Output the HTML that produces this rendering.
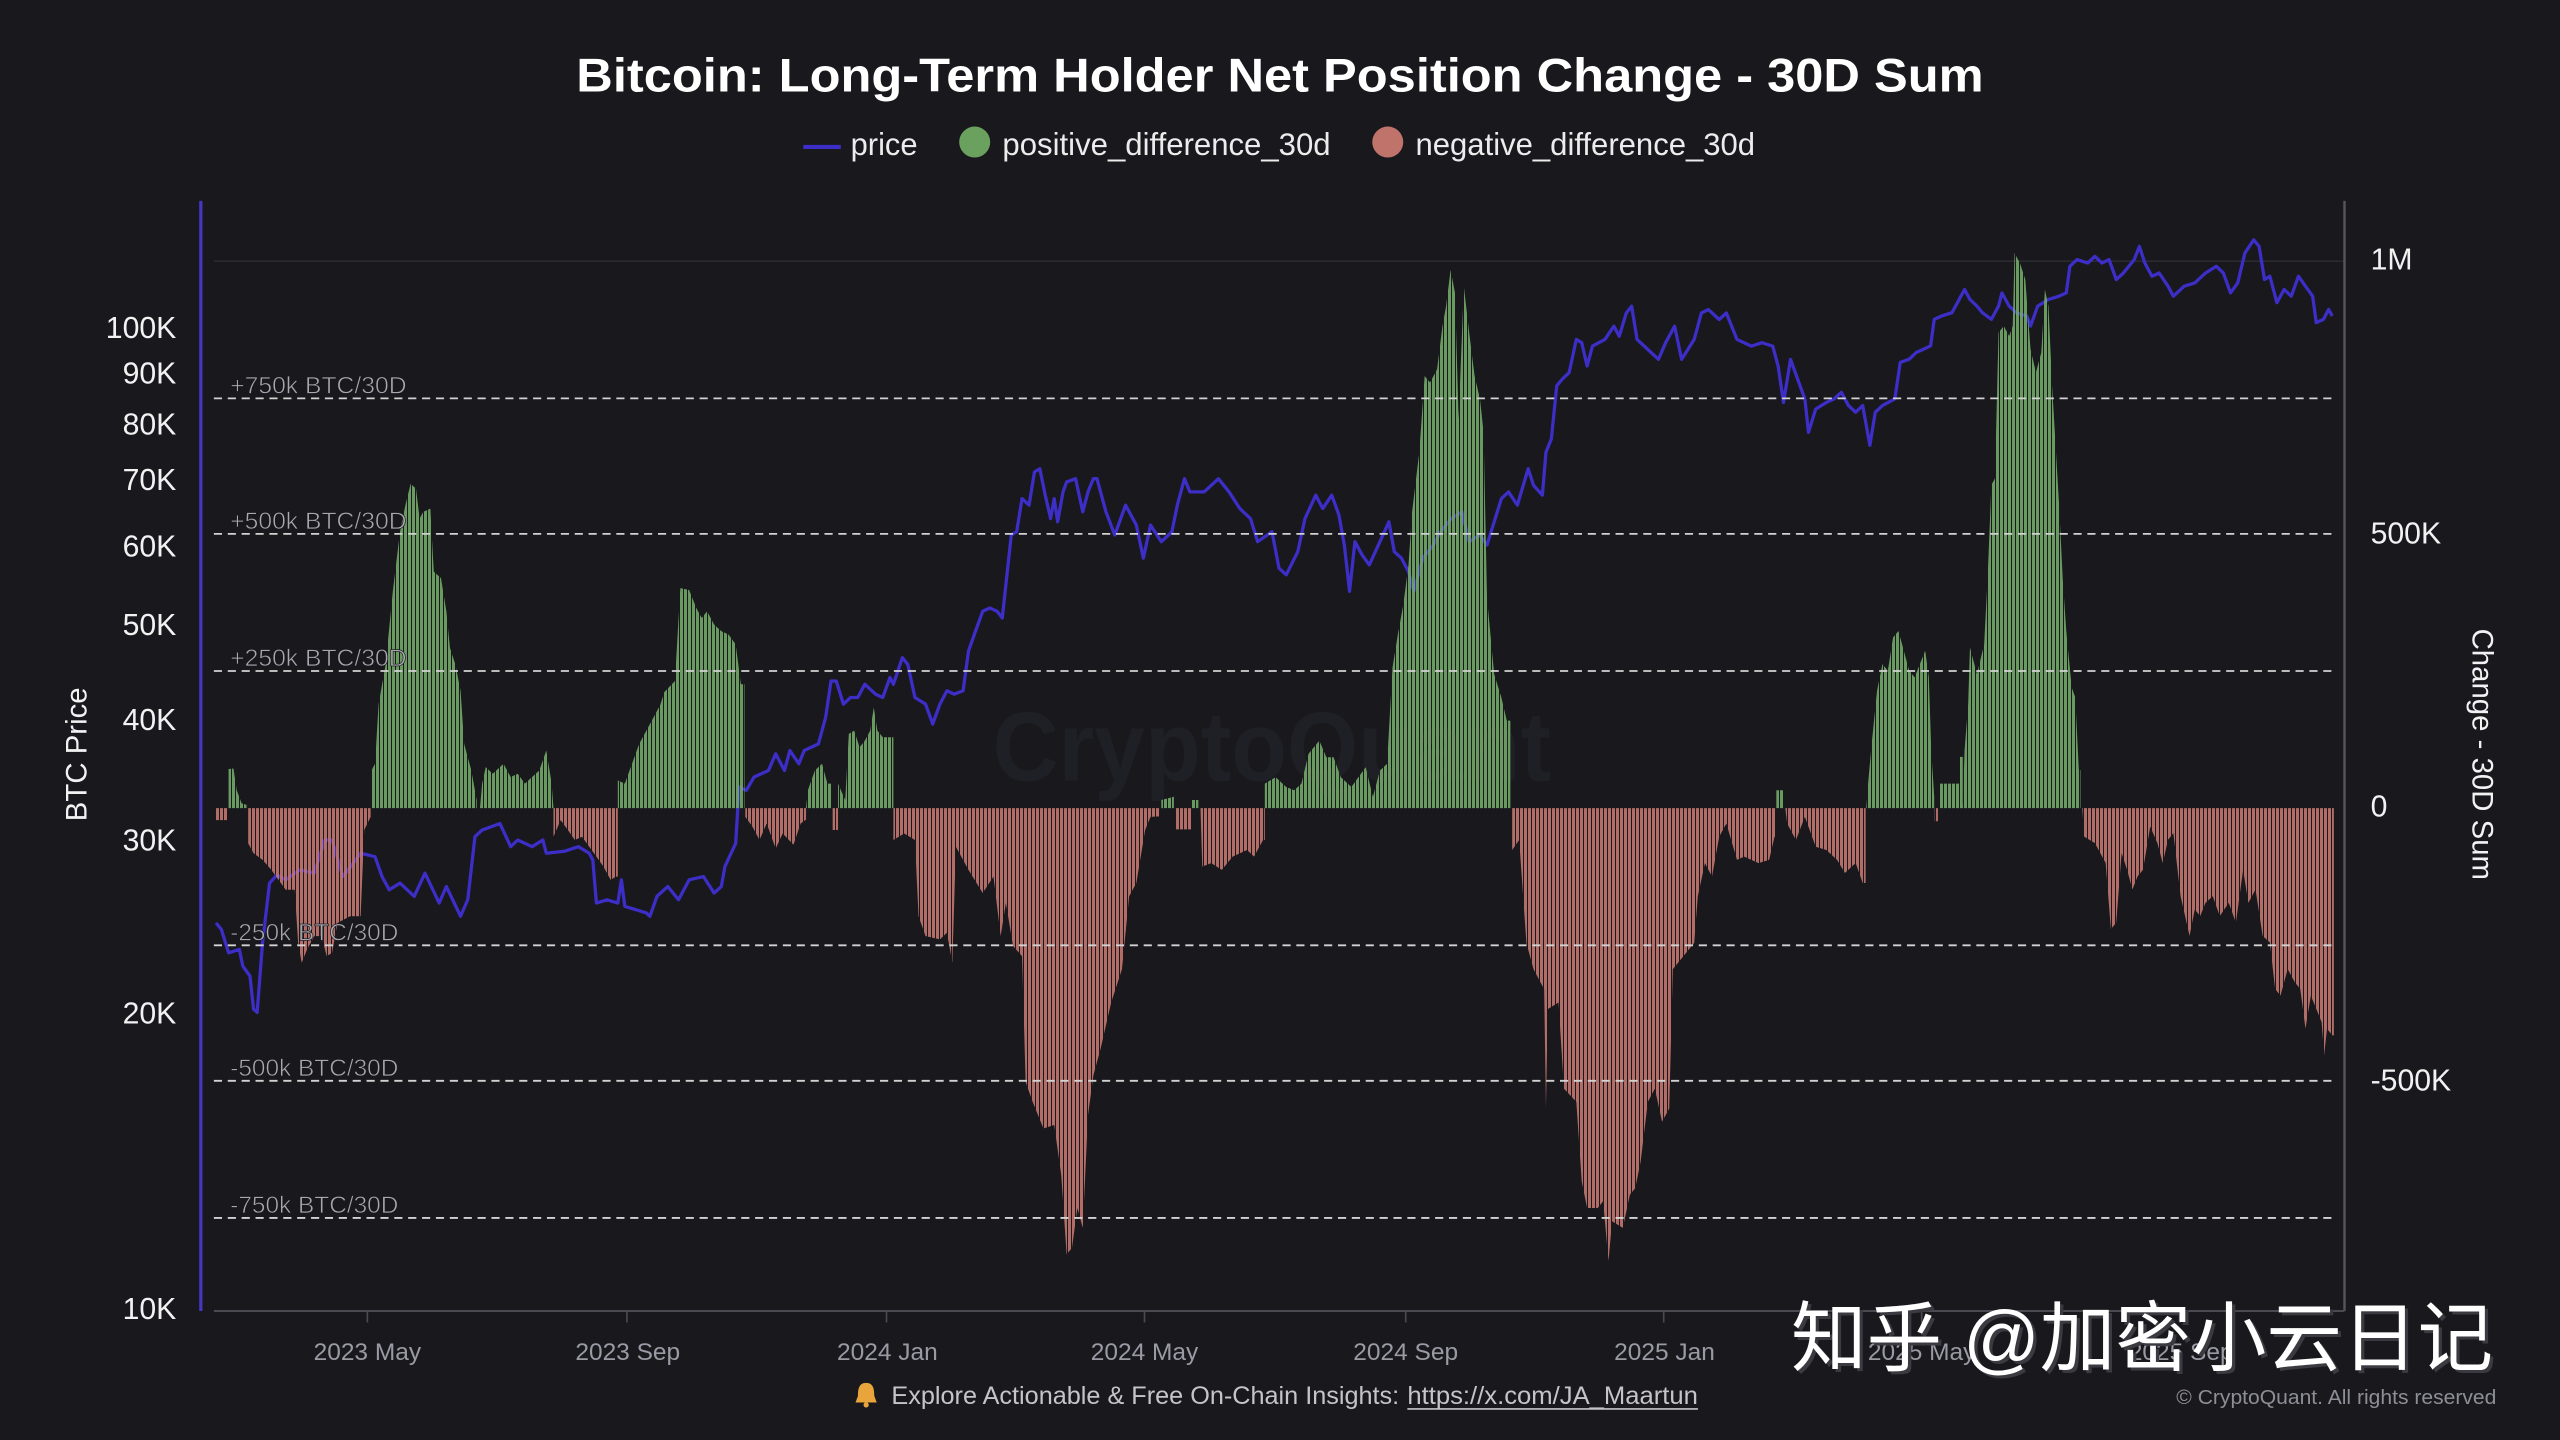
<!DOCTYPE html>
<html><head><meta charset="utf-8"><style>
html,body{margin:0;padding:0;background:#18181d;}
svg{display:block;}
text{font-family:"Liberation Sans","Noto Sans CJK SC",sans-serif;}
</style></head><body>
<svg width="2560" height="1440" viewBox="0 0 1568 882" xmlns="http://www.w3.org/2000/svg">
<defs>
<pattern id="gs" width="2.45" height="10" patternUnits="userSpaceOnUse"><rect width="1.84" height="10" fill="#72a866"/></pattern>
<pattern id="rs" width="2.45" height="10" patternUnits="userSpaceOnUse"><rect width="1.84" height="10" fill="#c2766e"/></pattern>
</defs>
<rect width="1568" height="882" fill="#18181d"/>

<!-- title -->
<text x="784" y="56" text-anchor="middle" font-size="29" font-weight="bold" fill="#ffffff" textLength="862" lengthAdjust="spacingAndGlyphs">Bitcoin: Long-Term Holder Net Position Change - 30D Sum</text>

<!-- legend -->
<line x1="492" y1="90" x2="515" y2="90" stroke="#3d2ec8" stroke-width="2.5"/>
<text x="521" y="95" font-size="19" fill="#ececec" textLength="41" lengthAdjust="spacingAndGlyphs">price</text>
<circle cx="597" cy="87" r="9.5" fill="#6aa15e"/>
<text x="614" y="95" font-size="19" fill="#ececec" textLength="201" lengthAdjust="spacingAndGlyphs">positive_difference_30d</text>
<circle cx="850" cy="87" r="9.5" fill="#c0736b"/>
<text x="867" y="95" font-size="19" fill="#ececec" textLength="208" lengthAdjust="spacingAndGlyphs">negative_difference_30d</text>

<!-- watermark center -->
<text x="608" y="478" font-size="60" font-weight="bold" fill="#1f1f26" textLength="342" lengthAdjust="spacingAndGlyphs">CryptoQuant</text>

<!-- grid / axes -->
<line x1="131" y1="160" x2="1436" y2="160" stroke="#2a2a31" stroke-width="1"/>
<line x1="123" y1="123" x2="123" y2="803" stroke="#4636c0" stroke-width="2"/>
<line x1="1436" y1="123" x2="1436" y2="803" stroke="#55555c" stroke-width="1.5"/>
<line x1="131" y1="803" x2="1436" y2="803" stroke="#4a4a52" stroke-width="1.2"/>
<g stroke="#4a4a52" stroke-width="1">
<line x1="225" y1="803" x2="225" y2="810"/><line x1="384" y1="803" x2="384" y2="810"/>
<line x1="543" y1="803" x2="543" y2="810"/><line x1="701" y1="803" x2="701" y2="810"/>
<line x1="861" y1="803" x2="861" y2="810"/><line x1="1019" y1="803" x2="1019" y2="810"/>
<line x1="1177" y1="803" x2="1177" y2="810"/><line x1="1335" y1="803" x2="1335" y2="810"/>
</g>

<!-- price line -->
<polyline fill="none" stroke="#3d2ec8" stroke-width="2" stroke-linejoin="round" points="132.3,565.3 135.6,569.3 140,583.6 146.6,581.5 148.7,591.7 153.1,597.8 155.3,618.1 157.5,620.1 160.8,577.5 165.1,540.9 169.5,536 175,538.9 183.7,532.8 192.5,534.8 199,514.5 203.4,514.5 210,536.9 216.5,528.7 220.9,522.6 229.7,524.7 234,536.9 238.4,545 245,540.9 253.7,549 260.3,534.8 269,553.1 273.4,543 282.1,561.2 286.5,551.1 290.9,512.5 295.3,508.4 306.2,504.4 312.8,518.6 317.1,514.5 325.9,518.6 332.5,514.5 334.6,522.6 345.6,521.4 354.3,518.6 360.9,522.6 363.1,526.7 365.3,553.1 371.8,551.1 378.4,553.1 380.6,538.9 382.7,555.1 395.9,559.2 398.1,561.2 402.4,549 409,543 415.6,551.1 422.1,538.9 430.9,536.9 437.4,547 441.8,543 444,530.8 450.6,516.6 452.7,482 457.1,484.1 461.9,475.9 470.7,471.9 475.1,461.7 480.5,471.9 483.8,459.7 489.3,467.8 492.6,459.7 501.3,455.6 505.7,439.4 509,417.1 512.2,417.1 516.6,431.3 521,427.2 525.4,427.2 529.7,419.1 536.3,425.2 540.7,427.2 545.1,415 547.2,419.1 552.7,402.8 556,406.9 560.4,427.2 566.9,431.3 571.3,443.5 575.7,431.3 580,423.1 584.4,425.2 589.9,423.1 593.2,398.8 597.5,386.6 601.9,374.4 606.3,372.4 610.7,374.4 613.9,378.5 616.1,358.2 619.4,327.7 622.7,325.7 626,305.4 630.3,309.4 633.6,289.1 636.9,287.1 640.2,303.3 643.5,317.6 645.7,305.4 647.8,319.6 651.1,301.3 653.3,295.2 658.8,293.2 663.2,313.5 666.4,301.3 669.7,293.2 671.9,293.2 677.4,313.5 682.8,327.7 689.4,309.4 696,321.6 700.3,341.9 704.7,321.6 711.3,331.8 717.8,325.7 721.1,309.4 725.5,293.2 728.8,301.3 737.5,301.3 746.3,293.2 752.8,301.3 759.4,311.5 765.9,317.6 770.3,331.8 779.1,325.7 783.4,348 787.8,352.1 794.9,337.9 799.3,317.6 805.9,303.3 810.2,311.5 815.7,303.3 820.1,315.5 823.4,333.8 826.6,362.2 829.9,331.8 834.3,339.9 838.7,346 845.2,331.8 850.7,319.6 854,337.9 858.4,341.9 862.7,350.1 866,362.2 871.5,341.9 878,333.8 882.4,325.7 889,317.6 895.5,313.5 899.9,331.8 906.5,327.7 910.8,333.8 915.2,319.6 919.6,305.4 924,301.3 929.4,309.4 936,287.1 939.3,297.3 944.7,303.3 946.9,277 950.2,268.8 953.5,236.3 956.8,232.3 961.1,228.2 965.5,207.9 968.8,209.9 972.1,224.2 975.4,212 983,207.9 988.5,199.8 991.8,205.9 996.1,191.7 999.4,187.6 1002.7,207.9 1007.1,212 1011.4,216 1015.8,220.1 1020.2,209.9 1025.7,199.8 1030,220.1 1037.7,207.9 1042.1,191.7 1046.4,189.6 1053,195.7 1057.4,191.7 1063.9,207.9 1072.7,212 1079.2,209.9 1085.8,212 1089.1,224.2 1092.4,246.5 1096.7,220.1 1101.1,232.3 1105.5,244.5 1107.7,264.8 1112.1,250.6 1118.6,246.5 1123.4,244.3 1127.8,240.3 1132.2,248.4 1136.6,252.5 1140.9,248.4 1145.3,272.8 1148.6,252.5 1153,248.4 1160.6,244.3 1163.9,222 1169.4,220 1173.7,215.9 1178.1,213.9 1182.5,211.8 1184.7,195.6 1189.1,193.6 1195.6,191.5 1200,183.4 1203.3,177.3 1206.6,183.4 1210.9,187.5 1214.2,191.5 1219.7,195.6 1224.1,187.5 1226.2,179.4 1230.6,187.5 1235,191.5 1241.5,193.6 1243.7,199.7 1248.1,187.5 1254.7,183.4 1261.2,181.4 1265.6,179.4 1267.8,163.1 1272.2,159 1278.7,161.1 1283.1,157 1287.5,161.1 1291.8,159 1296.2,171.2 1300.6,167.2 1307.2,159 1310.4,150.9 1313.7,161.1 1318.1,169.2 1322.5,167.2 1327.9,175.3 1331.2,181.4 1337.8,175.3 1344.3,173.3 1350.9,167.2 1357.5,163.1 1361.8,167.2 1366.2,179.4 1370.6,173.3 1375,155 1380.4,146.9 1383.7,150.9 1387,171.2 1390.3,169.2 1394.6,185.4 1399,177.3 1403.4,181.4 1407.8,169.2 1412.1,175.3 1416.5,181.4 1418.7,197.6 1423.1,195.6 1426.3,189.5 1428.5,193.6"/>

<!-- positive bars -->
<path fill="url(#gs)" opacity="0.9" d="
M140 495 L140 471 L143 470.7 L145 484 L148 492 L151 493 L151 495 Z
M227.5 495 L227.5 471.9 L229.7 467.8 L231.9 431.3 L236.2 406.9 L240.6 362.2 L245 325.7 L248.3 309.4 L251.5 296.4 L254.8 299.3 L257 317.6 L259.2 313.5 L263.6 311.5 L265.7 350.1 L270.1 354.1 L273.4 374.4 L275.6 396.8 L278.9 406.9 L282.1 423.1 L284.3 455.6 L288.7 471.9 L292 490.2 L292 495 Z
M294 495 L295.3 480 L297.5 469.9 L301.8 473.9 L308.4 467.8 L312.8 475.9 L317.1 473.9 L321.5 480 L325.9 475.9 L330.3 471.9 L334.6 459.7 L337.9 480 L339 495 Z
M378.4 495 L378.4 478 L382.7 480 L387.1 467.8 L391.5 455.6 L395.9 447.5 L400.3 439.4 L404.6 431.3 L406.8 424 L413.4 417.1 L416.7 360.2 L422.1 361.4 L426.5 372.4 L429.8 378.5 L433.1 374.4 L437.4 382.5 L441.8 386.6 L446.2 388.6 L450.6 394.7 L453.8 419.1 L456 419.1 L456 495 Z
M493.7 495 L494.8 484.1 L499.1 471.9 L503.5 467.8 L506.8 480 L509 480 L509 495 Z
M513.3 495 L513.3 480 L517.7 490 L519.9 449.5 L523.2 447.5 L526.5 457.7 L529.7 453.6 L533 447.5 L535.2 433.3 L537.4 447.5 L540.7 451.6 L547.2 451.6 L547.2 495 Z
M711.3 495 L711.3 490 L719 488 L719 495 Z
M730 495 L730 490 L734 490 L734 495 Z
M774.7 495 L774.7 480 L781.3 476 L787.8 482 L792.7 484 L797.1 480 L801.5 461.7 L808.1 453.6 L812.4 463.8 L816.8 463.8 L821.2 475.9 L827.7 482 L836.5 469.9 L840.9 488.1 L845.2 471.9 L849.6 467.8 L852.9 408.9 L856.2 388.6 L859.5 370.4 L862.7 346 L864.9 313.5 L869.3 277 L872.6 230.3 L875.9 234.3 L880.2 226.2 L883.5 199.8 L885.7 187.6 L888.5 165.3 L891.2 179.5 L893.4 256.6 L896.6 175.4 L899.9 203.9 L903.2 230.3 L906.5 244.5 L908.7 264.8 L910.8 366.3 L915.2 413 L919.6 427.2 L922.9 441.4 L925.1 441.4 L925.1 495 Z
M1088 495 L1088 484 L1092.4 484 L1092.4 495 Z
M1143.1 495 L1144.2 479.9 L1146.4 455.5 L1149.7 423 L1153 406.8 L1156.3 410.8 L1159.5 390.5 L1162.8 386.5 L1166.1 398.6 L1169.4 410.8 L1172.7 414.9 L1175.9 406.8 L1179.2 398.6 L1181.4 414.9 L1182.9 459.6 L1184.7 488 L1184.7 495 Z
M1188 495 L1188 480 L1200 480 L1200 463.6 L1202.2 463.6 L1202.2 495 Z
M1202.2 495 L1203.3 459.6 L1205.5 431.1 L1206.6 396.6 L1210.9 412.9 L1215.3 394.6 L1217.5 352 L1219.7 297.1 L1221.9 293.1 L1224.1 203.7 L1227.3 199.7 L1230.6 205.8 L1232.8 199.7 L1233.9 155 L1237.2 161.1 L1240.5 171.2 L1243.7 213.9 L1247 228.1 L1250.3 215.9 L1252.5 177.3 L1254.7 187.5 L1256.9 236.2 L1261.2 309.3 L1263.4 354 L1265.6 386.5 L1268.9 421 L1271.1 427.1 L1273.3 471.7 L1274.3 471.7 L1274.3 495 Z"/>

<!-- negative bars -->
<path fill="url(#rs)" opacity="0.9" d="
M132.3 495 L132.3 502.3 L139.5 502.3 L139.5 495 Z
M152 495 L152 516.6 L155.3 522.6 L160.8 526.7 L166.2 532.8 L170.6 538.9 L175 545 L180.5 545 L182.6 577.5 L184.8 589.7 L188.1 581.5 L192.5 573.4 L196.9 573.4 L200.1 585.6 L203.4 583.6 L206.7 565.3 L214.4 561.2 L220.9 561.2 L223.1 508.4 L227 500.3 L227 495 Z
M339 495 L339 512.5 L343.4 502.3 L347.8 508.4 L352.1 514.5 L356.5 512.5 L360.9 518.6 L365.3 524.7 L369.6 530.8 L374 538.9 L377.3 536.9 L378.4 536.9 L378.4 495 Z
M456.5 495 L456.5 500.3 L460.9 506.4 L465.2 514.5 L469.6 504.4 L475.1 519.8 L479.4 510.5 L486 517.4 L490.4 504.4 L493.7 502 L493.7 495 Z
M510 495 L510 508.4 L513.3 508.4 L513.3 495 Z
M547.2 495 L547.2 514.5 L553.8 510.5 L560.4 514.5 L562.6 561.2 L566.9 573.4 L575.7 575.4 L580 571.3 L583.3 589.7 L585.5 518.6 L593.2 532.8 L601.9 547 L608.5 536.9 L612.9 573.4 L616.1 553.1 L620.5 579.5 L626 585.6 L628.2 662.7 L632.5 674.9 L639.1 691.2 L645.7 689.1 L650 719.6 L653.3 768.3 L656.6 764.3 L659.9 739.9 L663.2 752.1 L666.4 683.1 L669.7 658.7 L674.1 642.4 L680.6 614 L687.2 593.7 L691.6 549 L696 540.9 L701.4 508.4 L704.7 500.3 L710.2 500 L710.2 495 Z
M720 495 L720 508 L730 508 L730 495 Z
M735.3 495 L736.4 530.8 L741.9 528.7 L748.4 532.8 L755 524.7 L763.8 520.6 L768.1 524.7 L773.6 514.5 L774.7 514.5 L774.7 495 Z
M926.2 495 L926.2 520.6 L930.5 514.5 L934.9 577.5 L939.3 593.7 L945.8 605.9 L946.9 679 L948 618.1 L954.6 614 L957.9 666.8 L965.5 674.9 L968.8 723.7 L972.1 739.9 L978.6 739.9 L981.9 735.8 L985.2 772.4 L987.4 748 L994 752.1 L998.3 731.8 L1001.6 727.7 L1004.9 711.5 L1009.3 674.9 L1013.6 666.8 L1018 687.1 L1022.4 679 L1024.6 593.7 L1031.1 585.6 L1037.7 577.5 L1039.9 549 L1044.3 528.7 L1048.6 536.9 L1053 512.5 L1057.4 504.4 L1063.9 526.7 L1068.3 524.7 L1077.1 528.7 L1083.6 526.7 L1086.9 512.5 L1087.5 512.5 L1087.5 495 Z
M1093.5 495 L1094.6 504.4 L1100 514.5 L1105.5 500.3 L1112.1 518.6 L1118.6 520.6 L1125.2 526.7 L1130 534.7 L1136.6 528.6 L1140.9 540.8 L1142.7 540.8 L1142.7 495 Z
M1185 495 L1185 503 L1187 503 L1187 495 Z
M1275.4 495 L1276.5 512.4 L1283.1 516.4 L1289.7 528.6 L1292.9 569.2 L1296.2 565.1 L1299.5 522.5 L1302.8 532.7 L1306.1 544.8 L1309.3 536.7 L1312.6 532.7 L1317 506.3 L1321.4 516.4 L1324.7 528.6 L1327.9 514.4 L1331.2 510.3 L1335.6 548.9 L1341.1 573.3 L1344.3 557 L1347.6 561.1 L1350.9 553 L1355.3 548.9 L1359.6 561.1 L1365.1 553 L1369.5 565.2 L1373.9 532.7 L1377.1 553 L1381.5 544.8 L1385.9 573.3 L1390.3 577.3 L1393.5 605.8 L1396.8 609.8 L1401.2 593.6 L1405.6 601.7 L1408.9 605.8 L1412.1 630.1 L1415.4 609.8 L1418.7 617.9 L1422 626.1 L1423.5 646.4 L1425.3 630.1 L1428.5 634.2 L1429.5 634.2 L1429.5 495 Z"/>

<!-- dashed threshold lines -->
<g stroke="#d2d2d2" stroke-width="1.1" stroke-dasharray="5 3.5">
<line x1="131" y1="244" x2="1429" y2="244"/>
<line x1="131" y1="327" x2="1429" y2="327"/>
<line x1="131" y1="411" x2="1429" y2="411"/>
<line x1="131" y1="579" x2="1429" y2="579"/>
<line x1="131" y1="662" x2="1429" y2="662"/>
<line x1="131" y1="746" x2="1429" y2="746"/>
</g>
<g font-size="14.5" fill="#a8a8b0" stroke="#18181d" stroke-width="0.4">
<text x="141" y="241" textLength="108" lengthAdjust="spacingAndGlyphs">+750k BTC/30D</text>
<text x="141" y="324" textLength="108" lengthAdjust="spacingAndGlyphs">+500k BTC/30D</text>
<text x="141" y="408" textLength="108" lengthAdjust="spacingAndGlyphs">+250k BTC/30D</text>
<text x="141" y="576" textLength="103" lengthAdjust="spacingAndGlyphs">-250k BTC/30D</text>
<text x="141" y="659" textLength="103" lengthAdjust="spacingAndGlyphs">-500k BTC/30D</text>
<text x="141" y="743" textLength="103" lengthAdjust="spacingAndGlyphs">-750k BTC/30D</text>
</g>

<!-- left axis labels -->
<g font-size="18.5" fill="#f2f2f2" text-anchor="end">
<text x="108" y="207">100K</text>
<text x="108" y="235">90K</text>
<text x="108" y="266">80K</text>
<text x="108" y="300">70K</text>
<text x="108" y="341">60K</text>
<text x="108" y="389">50K</text>
<text x="108" y="447">40K</text>
<text x="108" y="521">30K</text>
<text x="108" y="627">20K</text>
<text x="108" y="808">10K</text>
</g>
<text transform="translate(53,462) rotate(-90)" text-anchor="middle" font-size="18" fill="#f2f2f2">BTC Price</text>

<!-- right axis labels -->
<g font-size="18.5" fill="#f2f2f2">
<text x="1452" y="165">1M</text>
<text x="1452" y="333">500K</text>
<text x="1452" y="500">0</text>
<text x="1452" y="668">-500K</text>
</g>
<text transform="translate(1514.5,462) rotate(90)" text-anchor="middle" font-size="18" fill="#f2f2f2">Change - 30D Sum</text>

<!-- x labels -->
<g font-size="15" fill="#9a9aa4" text-anchor="middle">
<text x="225" y="833">2023 May</text>
<text x="384.5" y="833">2023 Sep</text>
<text x="543.5" y="833">2024 Jan</text>
<text x="701" y="833">2024 May</text>
<text x="861" y="833">2024 Sep</text>
<text x="1019.5" y="833">2025 Jan</text>
<text x="1177" y="833">2025 May</text>
<text x="1336" y="833">2025 Sep</text>
</g>

<!-- footer -->
<path d="M530.5 847 C526 847 525.5 851 525.5 855 L524 859 L537 859 L535.5 855 C535.5 851 535 847 530.5 847 Z" fill="#e9a53c"/>
<circle cx="530.5" cy="860.5" r="1.6" fill="#e9a53c"/>
<text x="546" y="860" font-size="15.5" fill="#c4c4ca" textLength="311" lengthAdjust="spacingAndGlyphs">Explore Actionable &amp; Free On-Chain Insights:</text>
<text x="862" y="860" font-size="15.5" fill="#c4c4ca" textLength="178" lengthAdjust="spacingAndGlyphs">https://x.com/JA_Maartun</text>
<line x1="862" y1="863" x2="1040" y2="863" stroke="#c4c4ca" stroke-width="1"/>
<text x="1333" y="860" font-size="12.5" fill="#8e8e96" textLength="196" lengthAdjust="spacingAndGlyphs">© CryptoQuant. All rights reserved</text>

<!-- zhihu watermark -->
<text x="1099" y="838" font-size="47" fill="#3a3a40" font-family="'Noto Sans CJK SC','WenQuanYi Zen Hei',sans-serif" textLength="430" lengthAdjust="spacingAndGlyphs">知乎 @加密小云日记</text>
<text x="1097" y="836" font-size="47" fill="#ffffff" font-family="'Noto Sans CJK SC','WenQuanYi Zen Hei',sans-serif" textLength="430" lengthAdjust="spacingAndGlyphs">知乎 @加密小云日记</text>
</svg>
</body></html>
